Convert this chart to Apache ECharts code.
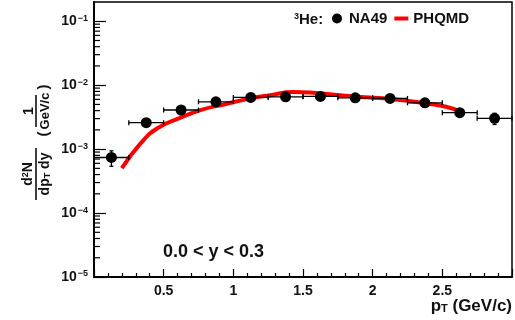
<!DOCTYPE html>
<html>
<head>
<meta charset="utf-8">
<script src="https://cdn.jsdelivr.net/npm/echarts@6/dist/echarts.min.js"></script>
<style>html,body{margin:0;padding:0;background:#fff;}#c{width:515px;height:320px;}</style>
</head>
<body>
<div id="c"></div>
<script>
// NA49 3He data, 0.0 < y < 0.3
const na49PT = [0.125, 0.375, 0.625, 0.875, 1.125, 1.375, 1.625, 1.875, 2.125, 2.375, 2.625, 2.875];
const na49Y = [7.4e-4, 2.59e-3, 4.09e-3, 5.5e-3, 6.43e-3, 6.57e-3, 6.67e-3, 6.34e-3, 6.21e-3, 5.30e-3, 3.71e-3, 3.03e-3];
const na49XErr = [0.125, 0.125, 0.125, 0.125, 0.125, 0.125, 0.125, 0.125, 0.125, 0.125, 0.125, 0.125];
const na49YErr = [2.0e-4, 2.5e-4, 3.0e-4, 3.5e-4, 3.5e-4, 3.5e-4, 3.5e-4, 3.5e-4, 3.5e-4, 3.5e-4, 3.5e-4, 6.0e-4];
// PHQMD curve
const phqmdPT = [0.2, 0.336, 0.455, 0.621, 0.764, 0.931, 1.121, 1.264, 1.43, 1.55, 1.62, 1.884, 2.145, 2.383, 2.526, 2.634];
const phqmdY = [5.05e-4, 1.24e-3, 2.12e-3, 3.1e-3, 4.08e-3, 5.0e-3, 6.2e-3, 6.98e-3, 7.8e-3, 7.7e-3, 7.45e-3, 6.58e-3, 6.05e-3, 5.19e-3, 4.59e-3, 3.84e-3];
// axis
const xMin = 0, xMax = 3, xInterval = 0.5;
const yMin = 1e-5, yMax = 0.2;
const yDecades = [-5, -4, -3, -2, -1];

const FONT = 'Liberation Sans, Arial, sans-serif';
const TXT = '#111';

const minorY = [];
yDecades.forEach(function (d) {
  for (let k = 2; k <= 9; k++) {
    const v = k * Math.pow(10, d);
    if (v < yMax) minorY.push([xMin, v]);
  }
});

const chart = echarts.init(document.getElementById('c'), null, {renderer: 'canvas'});
chart.setOption({
  animation: false,
  backgroundColor: '#fff',
  grid: {left: 94, right: 3, top: 2, bottom: 43, show: true, borderColor: '#000', borderWidth: 1.5, backgroundColor: 'transparent'},
  legend: {
    left: 332, top: 11, padding: 0, itemWidth: 14, itemHeight: 10, itemGap: 7,
    textStyle: {fontFamily: FONT, fontSize: 15, fontWeight: 'bold', color: TXT},
    data: [
      {name: 'NA49', icon: 'circle', itemStyle: {color: '#000', opacity: 1}},
      {name: 'PHQMD', icon: 'path://M0,0 L14,0 L14,4 L0,4 Z', itemStyle: {color: '#ff0000', opacity: 1}}
    ]
  },
  xAxis: {
    type: 'value', min: xMin, max: xMax, interval: xInterval,
    axisLine: {show: true, onZero: false, lineStyle: {color: '#000', width: 2}},
    axisTick: {show: true, inside: true, length: 8, lineStyle: {color: '#000', width: 1.2}},
    minorTick: {show: true, splitNumber: 5, length: 4, lineStyle: {color: '#000', width: 1.2}},
    splitLine: {show: false},
    axisLabel: {showMinLabel: false, showMaxLabel: false, margin: 7, fontFamily: FONT, fontSize: 14, fontWeight: 'bold', color: TXT}
  },
  yAxis: {
    type: 'log', logBase: 10, min: yMin, max: yMax,
    axisLine: {show: true, onZero: false, lineStyle: {color: '#000', width: 2}},
    axisTick: {show: true, inside: true, length: 12, lineStyle: {color: '#000', width: 1.2}},
    splitLine: {show: false},
    axisLabel: {
      margin: 6, showMaxLabel: false,
      formatter: function (v) {
        const l = Math.log10(v);
        const e = Math.round(l);
        if (Math.abs(l - e) > 1e-6) return '';
        return '{b|10}{e|\u2212' + (-e) + '}';
      },
      rich: {
        b: {fontFamily: FONT, fontSize: 14, fontWeight: 'bold', color: TXT},
        e: {fontFamily: FONT, fontSize: 9, fontWeight: 'bold', color: TXT, verticalAlign: 'top', padding: [0, 0, 6, 1]}
      }
    }
  },
  series: [
    {
      name: 'PHQMD', type: 'line', smooth: 0.5, showSymbol: false, symbol: 'none',
      lineStyle: {color: '#ff0000', width: 4, opacity: 1}, itemStyle: {color: '#ff0000'}, z: 2,
      data: phqmdPT.map(function (x, i) { return [x, phqmdY[i]]; })
    },
    {
      type: 'custom', silent: true, z: 3, clip: false,
      data: na49PT.map(function (x, i) { return [x, na49Y[i], na49XErr[i], na49YErr[i]]; }),
      renderItem: function (params, api) {
        const x = api.value(0), y = api.value(1), xe = api.value(2), ye = api.value(3);
        const l = api.coord([x - xe, y]), r = api.coord([x + xe, y]);
        const t = api.coord([x, y + ye]), b = api.coord([x, y - ye]);
        const st = {stroke: '#000', lineWidth: 1.3};
        return {type: 'group', children: [
          {type: 'line', shape: {x1: l[0], y1: l[1], x2: r[0], y2: r[1]}, style: st},
          {type: 'line', shape: {x1: l[0], y1: l[1] - 2.5, x2: l[0], y2: l[1] + 2.5}, style: st},
          {type: 'line', shape: {x1: r[0], y1: r[1] - 2.5, x2: r[0], y2: r[1] + 2.5}, style: st},
          {type: 'line', shape: {x1: t[0], y1: t[1], x2: b[0], y2: b[1]}, style: st},
          {type: 'line', shape: {x1: b[0] - 2, y1: b[1], x2: b[0] + 2, y2: b[1]}, style: st},
          {type: 'line', shape: {x1: t[0] - 2, y1: t[1], x2: t[0] + 2, y2: t[1]}, style: st}
        ]};
      }
    },
    {
      name: 'NA49', type: 'scatter', symbol: 'circle', symbolSize: 11, z: 4,
      itemStyle: {color: '#000', opacity: 1},
      data: na49PT.map(function (x, i) { return [x, na49Y[i]]; })
    },
    {
      type: 'custom', silent: true, z: 5, clip: false,
      data: minorY,
      renderItem: function (params, api) {
        const p = api.coord([api.value(0), api.value(1)]);
        return {type: 'line', shape: {x1: p[0], y1: p[1], x2: p[0] + 6, y2: p[1]}, style: {stroke: '#000', lineWidth: 1.2}};
      }
    }
  ],
  graphic: [
    {type: 'text', x: 294, y: 20, style: {
      text: '{s|3}{a|He:}', textVerticalAlign: 'middle', textAlign: 'left',
      rich: {
        s: {fontFamily: FONT, fontSize: 9, fontWeight: 'bold', fill: TXT, verticalAlign: 'top'},
        a: {fontFamily: FONT, fontSize: 15, fontWeight: 'bold', fill: TXT}
      }}},
    {type: 'text', x: 163, y: 252, style: {
      text: '0.0 < y < 0.3', fontFamily: FONT, fontSize: 18, fontWeight: 'bold', fill: TXT,
      textAlign: 'left', textVerticalAlign: 'middle'}},
    {type: 'text', x: 512, y: 306, style: {
      text: '{a|p}{t|T}{a| (GeV/c)}', textAlign: 'right', textVerticalAlign: 'middle',
      rich: {
        a: {fontFamily: FONT, fontSize: 17, fontWeight: 'bold', fill: TXT},
        t: {fontFamily: FONT, fontSize: 11, fontWeight: 'bold', fill: TXT, verticalAlign: 'bottom', padding: [6, 0, 0, 0]}
      }}},
    {type: 'group', x: 36, y: 148, rotation: Math.PI / 2, children: [
      {type: 'line', shape: {x1: -52, y1: 0, x2: 0, y2: 0}, style: {stroke: '#000', lineWidth: 1.5}},
      {type: 'text', x: -26, y: -8, style: {
        text: '{a|d}{s|2}{a|N}', textAlign: 'center', textVerticalAlign: 'middle',
        rich: {
          a: {fontFamily: FONT, fontSize: 14, fontWeight: 'bold', fill: TXT},
          s: {fontFamily: FONT, fontSize: 9, fontWeight: 'bold', fill: TXT, verticalAlign: 'top'}
        }}},
      {type: 'text', x: -26, y: 9, style: {
        text: '{a|dp}{t|T}{a| dy}', textAlign: 'center', textVerticalAlign: 'middle',
        rich: {
          a: {fontFamily: FONT, fontSize: 14, fontWeight: 'bold', fill: TXT},
          t: {fontFamily: FONT, fontSize: 9, fontWeight: 'bold', fill: TXT, verticalAlign: 'bottom', padding: [5, 0, 0, 0]}
        }}},
      {type: 'line', shape: {x1: 21, y1: 0, x2: 53, y2: 0}, style: {stroke: '#000', lineWidth: 1.5}},
      {type: 'text', x: 37, y: -7, style: {
        text: '1', fontFamily: FONT, fontSize: 14, fontWeight: 'bold', fill: TXT,
        textAlign: 'center', textVerticalAlign: 'middle'}},
      {type: 'text', x: 37, y: 9, style: {
        text: 'GeV/c', fontFamily: FONT, fontSize: 13, fontWeight: 'bold', fill: TXT,
        textAlign: 'center', textVerticalAlign: 'middle'}},
      {type: 'text', x: 14, y: 8, style: {
        text: '(', fontFamily: FONT, fontSize: 15, fontWeight: 'bold', fill: TXT,
        textAlign: 'center', textVerticalAlign: 'middle'}},
      {type: 'text', x: 61, y: 8, style: {
        text: ')', fontFamily: FONT, fontSize: 15, fontWeight: 'bold', fill: TXT,
        textAlign: 'center', textVerticalAlign: 'middle'}}
    ]}
  ]
});
</script>
</body>
</html>
